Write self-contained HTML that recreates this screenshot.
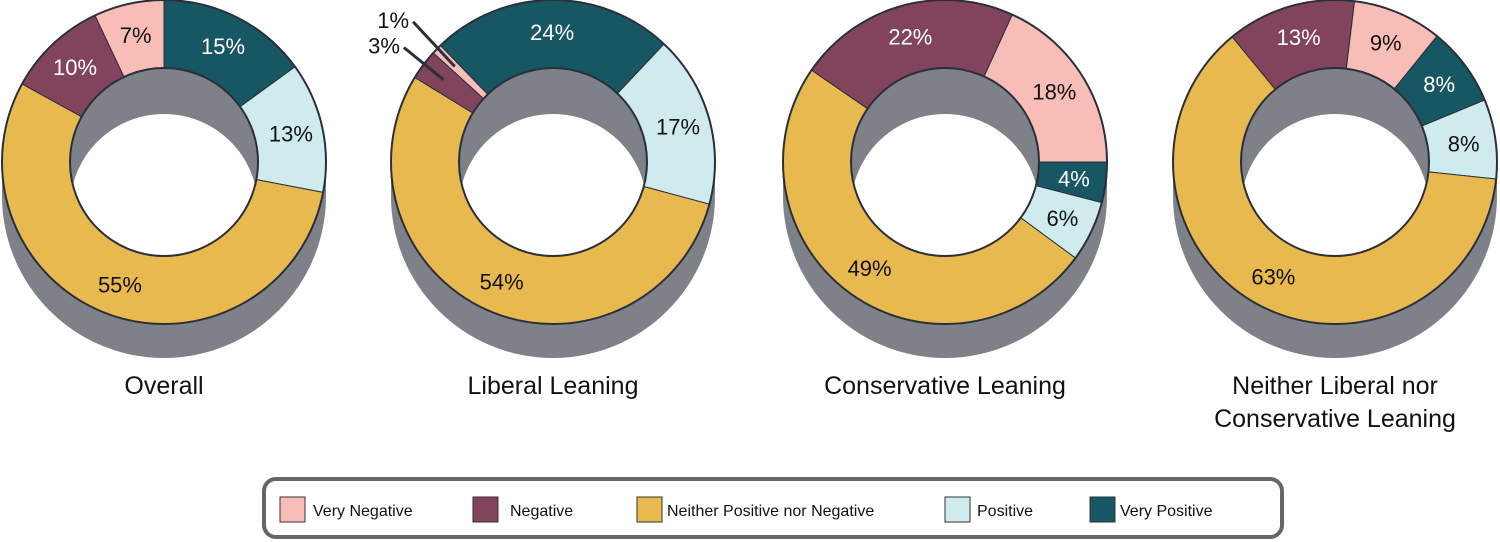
<!DOCTYPE html>
<html><head><meta charset="utf-8"><style>
body{margin:0;background:#fff;width:1500px;height:542px;overflow:hidden;font-family:"Liberation Sans",sans-serif}
svg{display:block}
</style></head><body>
<svg id="chart" width="1500" height="542" viewBox="0 0 1500 542" xmlns="http://www.w3.org/2000/svg">
<g id="donuts"></g>
<g font-size="16" fill="#111">
<rect x="264" y="479" width="1018" height="58" rx="12" fill="#fff" stroke="#666" stroke-width="4"/>
<rect x="280" y="497" width="25" height="25" fill="#f9bdb8" stroke="#333" stroke-width="1"/>
<text x="313" y="516">Very Negative</text>
<rect x="473" y="497" width="25" height="25" fill="#82445c" stroke="#333" stroke-width="1"/>
<text x="510" y="516">Negative</text>
<rect x="637" y="497" width="25" height="25" fill="#e8b94f" stroke="#333" stroke-width="1"/>
<text x="667" y="516">Neither Positive nor Negative</text>
<rect x="945" y="497" width="25" height="25" fill="#cfebee" stroke="#333" stroke-width="1"/>
<text x="977" y="516">Positive</text>
<rect x="1090" y="497" width="25" height="25" fill="#175663" stroke="#333" stroke-width="1"/>
<text x="1120" y="516">Very Positive</text>
</g>
</svg>
<script>
const groups = ["Overall","Liberal Leaning","Conservative Leaning","Neither Liberal nor|Conservative Leaning"];
// order clockwise: Very Positive, Positive, Neither, Negative, Very Negative
const categories = ["Very Positive","Positive","Neither Positive nor Negative","Negative","Very Negative"];
const overallVals = [15,13,55,10,7];
const liberalVals = [24,17,54,3,1];
const conservativeVals = [4,6,49,22,18];
const neitherVals = [8,8,63,13,9];
const allVals = [overallVals, liberalVals, conservativeVals, neitherVals];
const startAngles = [0,-44,90,39];

const colors = ["#175663","#cfebee","#e8b94f","#82445c","#f9bdb8"];
const textColors = ["#fff","#111","#111","#fff","#111"];
const centersX = [164,553,945,1335];
const CY=162, RO=162, RI=94, DEPTH=34, IDEPTH=46;
const NS="http://www.w3.org/2000/svg";
const root=document.getElementById('donuts');
function mk(tag,attrs,parent){const e=document.createElementNS(NS,tag);for(const k in attrs)e.setAttribute(k,attrs[k]);(parent||root).appendChild(e);return e;}
function pt(cx,cy,r,a){const t=(a-90)*Math.PI/180;return [cx+r*Math.cos(t),cy+r*Math.sin(t)];}
function arcPath(cx,cy,a0,a1){
  const large=(a1-a0)>180?1:0;
  const p0=pt(cx,cy,RO,a0),p1=pt(cx,cy,RO,a1),q1=pt(cx,cy,RI,a1),q0=pt(cx,cy,RI,a0);
  return `M${p0[0]},${p0[1]} A${RO},${RO} 0 ${large} 1 ${p1[0]},${p1[1]} L${q1[0]},${q1[1]} A${RI},${RI} 0 ${large} 0 ${q0[0]},${q0[1]} Z`;
}
const slugs=["overall","liberal","conservative","neither"];
const catSlugs=["very-positive","positive","neither","negative","very-negative"];
allVals.forEach((vals,gi)=>{
  const cx=centersX[gi];
  const g=mk('g',{});
  
  
  const sh1=mk('circle',{cx:cx,cy:CY+DEPTH,r:RO,fill:'#7e8188'},g);
  
  
  const sh2=mk('rect',{x:cx-RO,y:CY,width:2*RO,height:DEPTH,fill:'#7e8188'},g);
  
  
  const total=vals.reduce((a,b)=>a+b,0);
  let a=startAngles[gi];
  vals.forEach((v,i)=>{
    const sweep=v/total*360;
    const p=mk('path',{d:arcPath(cx,CY,a,a+sweep),fill:colors[i],stroke:'#2a2f3a','stroke-width':1},g);
    
    
    const mid=a+sweep/2;
    let lp=pt(cx,CY,(RO+RI)/2+2,mid);
    let fill=textColors[i], anchor='middle';
    if(v<3 || (v<4 && gi===1)){
      // outside label with leader line
      const inner=pt(cx,CY,RO-25,mid), outer=pt(cx,CY,RO+22,mid);
      const off = v<2 ? [-8,-12] : [-2,-4];
      const ln=mk('line',{x1:inner[0],y1:inner[1],x2:outer[0]+off[0],y2:outer[1]+off[1],stroke:'#2a2f3a','stroke-width':3},g);
      
      
      lp=[outer[0]+off[0]-4,outer[1]+off[1]-2]; fill='#111'; anchor='end';
    }
    const t=mk('text',{x:lp[0],y:lp[1]+8,'text-anchor':anchor,'font-size':22,fill:fill},g);
    t.textContent=v+'%';
    
    
    a+=sweep;
  });
  const clipId='clip'+gi;
  const cp=mk('clipPath',{id:clipId},g);
  mk('circle',{cx:cx,cy:CY,r:RI},cp);
  const hole=mk('circle',{cx:cx,cy:CY,r:RI,fill:'#7e8188'},g);
  
  
  const w=mk('circle',{cx:cx,cy:CY+IDEPTH,r:RI,fill:'#fff','clip-path':`url(#${clipId})`},g);
  
  
  const ho=mk('circle',{cx:cx,cy:CY,r:RI,fill:'none',stroke:'#2a2f3a','stroke-width':2},g);
  
  
  const oo=mk('circle',{cx:cx,cy:CY,r:RO,fill:'none',stroke:'#2a2f3a','stroke-width':2},g);
  
  
  groups[gi].split('|').forEach((line,li)=>{
    const tt=mk('text',{x:cx,y:394+li*33,'text-anchor':'middle','font-size':25,fill:'#111'},g);
    tt.textContent=line;
    
    
  });
});
</script>
</body></html>
